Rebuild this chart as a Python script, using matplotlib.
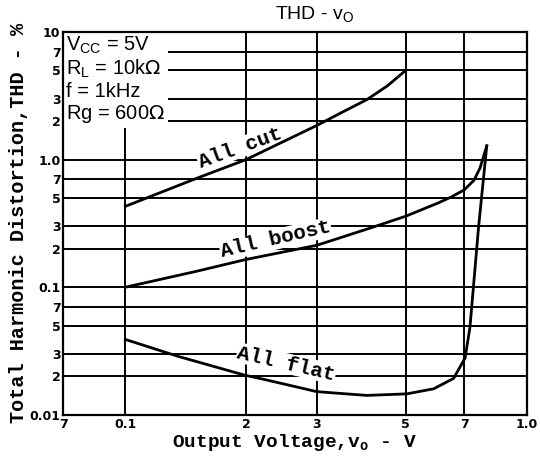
import numpy as np
import matplotlib
matplotlib.use("Agg")
import matplotlib.pyplot as plt
from matplotlib.ticker import FixedLocator, NullLocator

# curves (x in V, y in %)
cut_x = [1.0, 1.5, 2.0, 3.0, 3.5, 4.0, 4.5, 5.0]
cut_y = [0.43, 0.71, 1.0, 1.85, 2.38, 2.95, 3.78, 5.0]

boost_x = [1.0, 1.5, 2.0, 3.0, 4.0, 5.0, 6.0, 6.5, 7.0, 7.4, 7.66, 7.96]
boost_y = [0.1, 0.133, 0.165, 0.213, 0.285, 0.36, 0.455, 0.51, 0.58, 0.69, 0.86, 1.28]

flat_x = [1.0, 1.35, 1.98, 2.26, 3.0, 4.0, 5.03, 5.87, 6.58, 7.03, 7.23, 7.59, 7.96]
flat_y = [0.039, 0.0288, 0.0205, 0.0187, 0.0152, 0.0142, 0.0146, 0.016,
          0.0193, 0.0279, 0.0488, 0.29, 1.28]

x_ticks = [0.7, 1, 2, 3, 5, 7, 10]
x_labels = ["7", "0.1", "2", "3", "5", "7", "1.0"]
y_ticks = [10, 7, 5, 3, 2, 1, 0.7, 0.5, 0.3, 0.2, 0.1, 0.07, 0.05, 0.03, 0.02, 0.01]
y_labels = ["10", "7", "5", "3", "2", "1.0", "7", "5", "3", "2", "0.1",
            "7", "5", "3", "2", "0.01"]

mono = "Liberation Mono"

fig = plt.figure(figsize=(5.4, 4.63), dpi=100)
ax = fig.add_axes([0.117, 0.104, 0.858, 0.827])
ax.set_xscale("log")
ax.set_yscale("log")
ax.set_xlim(0.7, 10)
ax.set_ylim(0.01, 10)

# grid lines
for yv in y_ticks[1:-1]:
    ax.axhline(yv, color="black", lw=1.4, zorder=1)
for xv in x_ticks[1:-1]:
    ax.axvline(xv, color="black", lw=1.4, zorder=1)

for s in ax.spines.values():
    s.set_linewidth(1.6)

ax.xaxis.set_major_locator(FixedLocator(x_ticks))
ax.xaxis.set_minor_locator(NullLocator())
ax.yaxis.set_major_locator(FixedLocator(y_ticks))
ax.yaxis.set_minor_locator(NullLocator())
ax.set_xticklabels(x_labels, fontsize=9, fontweight="bold")
ax.set_yticklabels(y_labels, fontsize=9, fontweight="bold")
ax.tick_params(length=0, pad=2)

ax.plot(cut_x, cut_y, color="black", lw=2.0, zorder=3)
ax.plot(boost_x, boost_y, color="black", lw=2.0, zorder=3)
ax.plot(flat_x, flat_y, color="black", lw=2.0, zorder=3)

box = dict(facecolor="white", edgecolor="none", pad=0.5)
ax.text(1.93, 1.24, "All cut", family=mono, fontweight="bold", fontsize=15,
        rotation=20, ha="center", va="center", bbox=box, zorder=2)
ax.text(2.37, 0.237, "All boost", family=mono, fontweight="bold", fontsize=15,
        rotation=13, ha="center", va="center", bbox=box, zorder=2)
ax.text(2.52, 0.0253, "All flat", family=mono, fontweight="bold", fontsize=15,
        rotation=-13, ha="center", va="center", bbox=box, zorder=2)

cond = "V$_\\mathregular{CC}$ = 5V\nR$_\\mathregular{L}$ = 10k$\\Omega$\nf = 1kHz\nRg = 600$\\Omega$"
ax.text(0.712, 9.5, cond, fontsize=14.5, family="Liberation Sans", ha="left",
        va="top", linespacing=1.12,
        bbox=dict(facecolor="white", edgecolor="none", pad=2), zorder=2)

ax.set_xlabel("Output Voltage,v$_\\mathregular{o}$ - V", family=mono,
              fontweight="bold", fontsize=14, labelpad=1)
ax.set_ylabel("Total Harmonic Distortion,THD - %", family=mono,
              fontweight="bold", fontsize=14.5, labelpad=1)

fig.text(0.583, 0.968, "THD - v$_\\mathregular{O}$", fontsize=14, ha="center",
         va="center", family="Liberation Sans")

fig.savefig("out.png", dpi=100)
